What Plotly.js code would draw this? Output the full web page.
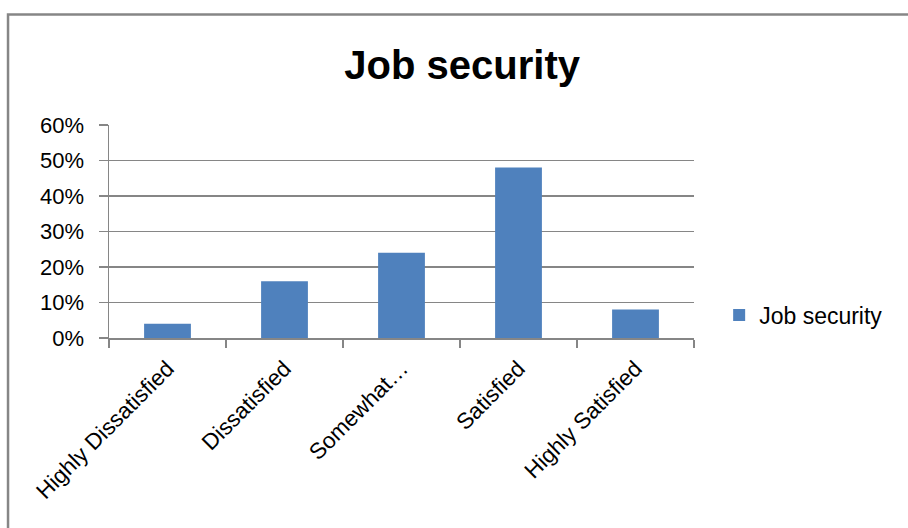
<!DOCTYPE html>
<html>
<head>
<meta charset="utf-8">
<script src="https://cdn.plot.ly/plotly-3.0.1.min.js"></script>
<style>
  html, body { margin: 0; padding: 0; background: #ffffff; }
  #chart { width: 908px; height: 528px; }
</style>
</head>
<body>
<div id="chart"></div>
<script>
const categories = ["Highly Dissatisfied", "Dissatisfied", "Somewhat…", "Satisfied", "Highly Satisfied"];
const jobSecurity = [0.04, 0.16, 0.24, 0.48, 0.08];
const seriesName = "Job security";
const chartTitle = "Job security";

const FONT = "Liberation Sans, Arial, sans-serif";
const GRAY = "#868686";

const trace = {
  type: "bar",
  x: categories,
  y: jobSecurity,
  name: seriesName,
  marker: { color: "#4F81BD", line: { color: "#4F81BD", width: 0 } },
  showlegend: true,
  hoverinfo: "x+y"
};

const layout = {
  width: 908,
  height: 528,
  margin: { l: 109, r: 214, t: 125, b: 190 },
  paper_bgcolor: "#ffffff",
  plot_bgcolor: "#ffffff",
  font: { family: FONT, size: 22, color: "#000000" },
  title: {
    text: chartTitle,
    font: { family: FONT, size: 40, color: "#000000", weight: "bold" },
    x: 0.509, xref: "container", xanchor: "center",
    y: 0.877, yref: "container", yanchor: "middle"
  },
  bargap: 0.6,
  xaxis: {
    type: "category",
    tickangle: -45,
    tickson: "boundaries",
    ticks: "outside",
    ticklen: 8,
    tickcolor: GRAY,
    tickwidth: 1.5,
    showline: true,
    linecolor: GRAY,
    linewidth: 1.5,
    showgrid: false,
    ticklabelstandoff: 7,
    tickfont: { family: FONT, size: 22.5, color: "#000000" },
    fixedrange: true
  },
  yaxis: {
    range: [0, 0.6],
    dtick: 0.1,
    tickformat: ".0%",
    ticks: "outside",
    ticklen: 9,
    tickcolor: GRAY,
    tickwidth: 1.5,
    showline: true,
    linecolor: GRAY,
    linewidth: 1.5,
    showgrid: true,
    gridcolor: GRAY,
    gridwidth: 1.2,
    zeroline: false,
    ticklabelstandoff: 10,
    tickfont: { family: FONT, size: 22, color: "#000000" },
    fixedrange: true
  },
  legend: {
    x: 1.043, xanchor: "left",
    y: 0.108, yanchor: "middle",
    font: { family: FONT, size: 23, color: "#000000" },
    bgcolor: "rgba(0,0,0,0)",
    borderwidth: 0
  },
  shapes: [
    {
      type: "path",
      xref: "paper", yref: "paper",
      path: "M -0.1726 -0.95 L -0.1726 1.5188 L 1.37 1.5188",
      line: { color: GRAY, width: 2.5 }
    }
  ]
};

Plotly.newPlot("chart", [trace], layout, { displayModeBar: false, staticPlot: true });
</script>
</body>
</html>
